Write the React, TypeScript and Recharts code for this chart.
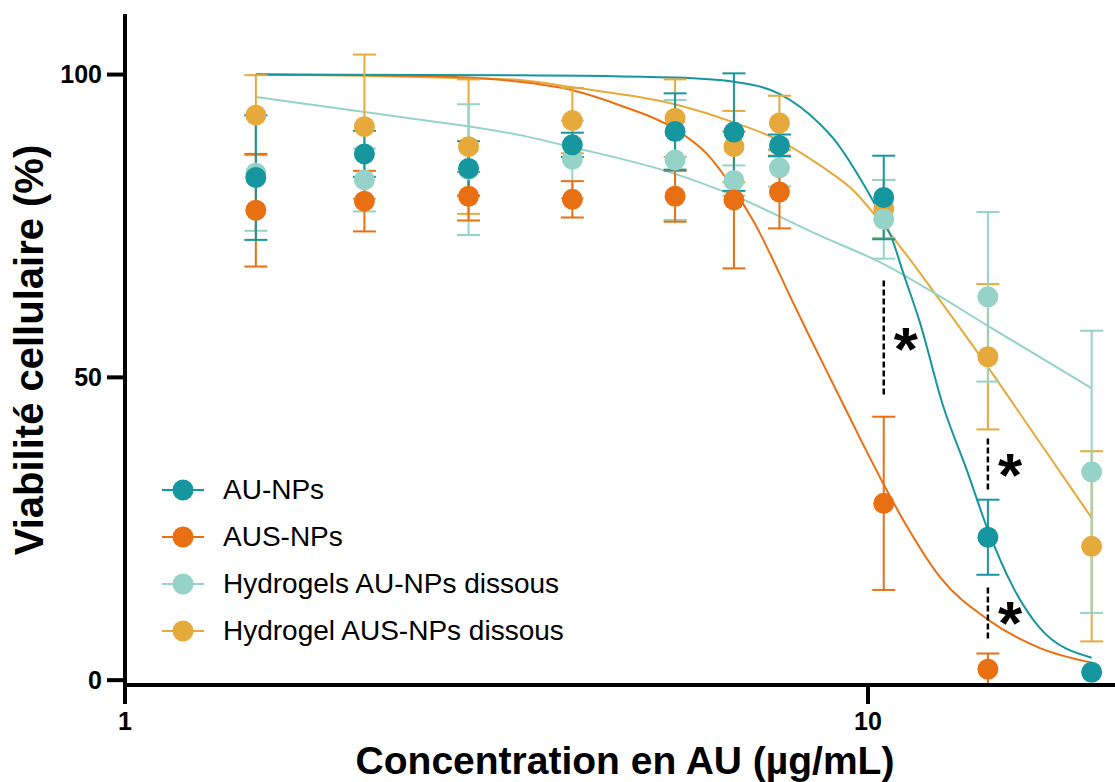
import {
  ComposedChart,
  Line,
  Scatter,
  XAxis,
  YAxis,
  ErrorBar,
  ReferenceLine,
  ReferenceDot,
  Legend,
  Label,
} from 'recharts'

const FONT = '"Liberation Sans", Arial, Helvetica, sans-serif'

// concentrations en AU (µg/mL)
const concentrations = [1.5, 2.1, 2.9, 4, 5.5, 6.6, 7.6, 10.5, 14.5, 20]

// viabilité moyenne (%) et écart-type
const auNps = [83.0, 86.9, 84.5, 88.4, 90.6, 90.5, 88.3, 79.7, 23.6, 1.3]
const auNpsErr = [10.3, 3.8, 4.5, 2.0, 6.3, 9.7, 1.8, 6.9, 6.2, null]

const ausNps = [77.6, 79.1, 79.9, 79.4, 79.9, 79.3, 80.6, 29.2, 1.8, null]
const ausNpsErr = [9.3, 5.0, 4.0, 3.0, 4.2, 11.3, 6.0, 14.3, 2.6, null]

const hydroAuNps = [83.7, 82.6, 84.3, 86.0, 85.9, 82.5, 84.6, 76.1, 63.3, 34.4]
const hydroAuNpsErr = [9.5, 5.2, 10.8, 6.4, 9.9, 2.5, 3.1, 6.5, 14.0, 23.3]

const hydroAusNps = [93.3, 91.4, 88.1, 92.4, 92.8, 88.1, 92.0, 77.8, 53.4, 22.1]
const hydroAusNpsErr = [6.6, 11.9, 11.1, 5.4, 6.4, 5.9, 4.5, 4.8, 12.0, 15.7]

// courbes d'ajustement
const auNpsFit: [number, number][] = [
  [1.5, 100], [3.4, 99.9], [5.5, 99.5], [6.6, 98.8], [7.6, 96.8], [8.62, 91.8],
  [9.03, 89.1], [9.85, 82.0], [10.5, 75.8], [10.77, 72.9], [11.15, 67.3], [11.75, 59.0],
  [12.62, 45.3], [13.59, 34.6], [14.5, 24.8], [15.67, 15.4], [17.04, 8.6], [20, 3.7],
]
const ausNpsFit: [number, number][] = [
  [1.5, 100], [2.2, 99.9], [2.9, 99.5], [3.4, 98.8], [4.0, 97.4], [4.64, 94.9],
  [5.5, 91.0], [6.07, 86.9], [6.6, 81.0], [7.01, 75.8], [7.94, 62.2],
  [8.27, 57.7], [9.17, 46.6], [9.75, 40.0], [10.49, 32.4], [11.28, 25.4], [12.5, 17.0],
  [14.5, 10.0], [17.04, 5.3], [20, 2.9],
]
const hydroAuNpsFit: [number, number][] = [
  [1.5, 96.3], [2.35, 93.0], [3.4, 90.0], [4.0, 88.0], [5.5, 83.6], [6.6, 80.0],
  [8.62, 73.4], [10.5, 68.7], [12.37, 63.7], [14.5, 58.5], [20, 48.2],
]
const hydroAusNpsFit: [number, number][] = [
  [1.5, 100], [2.1, 99.8], [2.9, 99.4], [3.4, 99.1], [4.0, 97.9], [5.5, 95.1],
  [6.6, 92.1], [7.6, 89.1], [8.62, 85.0], [9.55, 80.9], [10.5, 75.0], [11.16, 70.9],
  [12.5, 62.7], [14.5, 51.7], [17.04, 39.2], [20, 26.8],
]

// significativité
const sigLines = [
  { x: 10.5, from: 66.0, to: 47.0 },
  { x: 14.5, from: 39.9, to: 31.4 },
  { x: 14.5, from: 15.3, to: 6.7 },
]
const sigStars = [
  { x: 11.24, y: 56.1 },
  { x: 15.53, y: 35.4 },
  { x: 15.53, y: 10.9 },
]

const xTicks = [1, 10]
const yTicks = [0, 50, 100]

const toPoints = (values: (number | null)[], errors: (number | null)[]) =>
  concentrations
    .map((x, i) => ({ x, y: values[i], err: errors[i] }))
    .filter((p) => p.y !== null)

const toCurve = (fit: [number, number][]) => fit.map(([x, y]) => ({ x, y }))

// ordre de tracé : jaune, vert clair, orange, bleu
const series = [
  { name: 'Hydrogel AUS-NPs dissous', color: '#e5aa3b', values: hydroAusNps, errors: hydroAusNpsErr, fit: hydroAusNpsFit },
  { name: 'Hydrogels AU-NPs dissous', color: '#95d3c9', values: hydroAuNps, errors: hydroAuNpsErr, fit: hydroAuNpsFit },
  { name: 'AUS-NPs', color: '#e87012', values: ausNps, errors: ausNpsErr, fit: ausNpsFit },
  { name: 'AU-NPs', color: '#16969f', values: auNps, errors: auNpsErr, fit: auNpsFit },
]

const legendOrder = ['AU-NPs', 'AUS-NPs', 'Hydrogels AU-NPs dissous', 'Hydrogel AUS-NPs dissous']

function renderLegend() {
  return (
    <div style={{ fontFamily: FONT, fontSize: 28, color: '#000' }}>
      {legendOrder.map((name) => {
        const s = series.find((d) => d.name === name)!
        return (
          <div key={name} style={{ display: 'flex', alignItems: 'center', height: 47 }}>
            <svg width={44} height={24} style={{ marginRight: 18 }}>
              <line x1={1} x2={43} y1={12} y2={12} stroke={s.color} strokeWidth={2} />
              <circle cx={22} cy={12} r={10.5} fill={s.color} />
            </svg>
            <span>{name}</span>
          </div>
        )
      })}
    </div>
  )
}

export default function App() {
  return (
    <div style={{ position: 'absolute', left: 0, top: 0, background: '#fff' }}>
      <ComposedChart width={1115} height={782} margin={{ top: 14, right: 0, bottom: 0, left: 0 }}>
        <XAxis
          dataKey="x"
          type="number"
          scale="log"
          domain={[1, 21.5]}
          ticks={xTicks}
          allowDataOverflow
          height={97}
          tickSize={19}
          tickMargin={8}
          axisLine={{ stroke: '#000', strokeWidth: 4 }}
          tickLine={{ stroke: '#000', strokeWidth: 4 }}
          tick={{ fill: '#000', fontSize: 25, fontWeight: 700, fontFamily: FONT }}
        >
          <Label
            content={({ viewBox }: any) => (
              <text
                x={viewBox.x + viewBox.width / 2 + 5}
                y={774}
                textAnchor="middle"
                fill="#000"
                fontSize={39}
                fontWeight={700}
                fontFamily={FONT}
              >
                Concentration en AU (µg/mL)
              </text>
            )}
          />
        </XAxis>
        <YAxis
          type="number"
          domain={[0, 110]}
          ticks={yTicks}
          width={125}
          tickSize={18}
          tickMargin={5}
          axisLine={{ stroke: '#000', strokeWidth: 4 }}
          tickLine={{ stroke: '#000', strokeWidth: 4 }}
          tick={{ fill: '#000', fontSize: 25, fontWeight: 700, fontFamily: FONT }}
        >
          <Label
            content={() => (
              <text
                x={43}
                y={350}
                transform="rotate(-90 43 350)"
                textAnchor="middle"
                fill="#000"
                fontSize={40}
                fontWeight={700}
                fontFamily={FONT}
              >
                Viabilité cellulaire (%)
              </text>
            )}
          />
        </YAxis>

        {series.map((s) => (
          <Line
            key={`fit-${s.name}`}
            data={toCurve(s.fit)}
            dataKey="y"
            type="monotone"
            stroke={s.color}
            strokeWidth={2}
            dot={false}
            activeDot={false}
            legendType="none"
            isAnimationActive={false}
          />
        ))}

        {series.map((s) => (
          <Scatter
            key={`pts-${s.name}`}
            name={s.name}
            data={toPoints(s.values, s.errors)}
            dataKey="y"
            fill={s.color}
            isAnimationActive={false}
            shape={(p: any) => <circle cx={p.cx} cy={p.cy} r={10.5} fill={s.color} />}
          >
            <ErrorBar
              dataKey="err"
              direction="y"
              width={11.5}
              stroke={s.color}
              strokeWidth={2}
              isAnimationActive={false}
            />
          </Scatter>
        ))}

        {sigLines.map((l, i) => (
          <ReferenceLine
            key={`sig-${i}`}
            segment={[{ x: l.x, y: l.from }, { x: l.x, y: l.to }]}
            stroke="#000"
            strokeWidth={2.5}
            strokeDasharray="6 3"
          />
        ))}
        {sigStars.map((s, i) => (
          <ReferenceDot
            key={`star-${i}`}
            x={s.x}
            y={s.y}
            r={0}
            shape={(p: any) => (
              <text
                x={p.cx}
                y={p.cy + 30}
                textAnchor="middle"
                fontSize={62}
                fontWeight={700}
                fontFamily={FONT}
                fill="#000"
              >
                *
              </text>
            )}
          />
        ))}

        <Legend
          layout="vertical"
          align="center"
          verticalAlign="middle"
          wrapperStyle={{ left: 161, top: 466, width: 460 }}
          content={renderLegend}
        />
      </ComposedChart>
    </div>
  )
}
